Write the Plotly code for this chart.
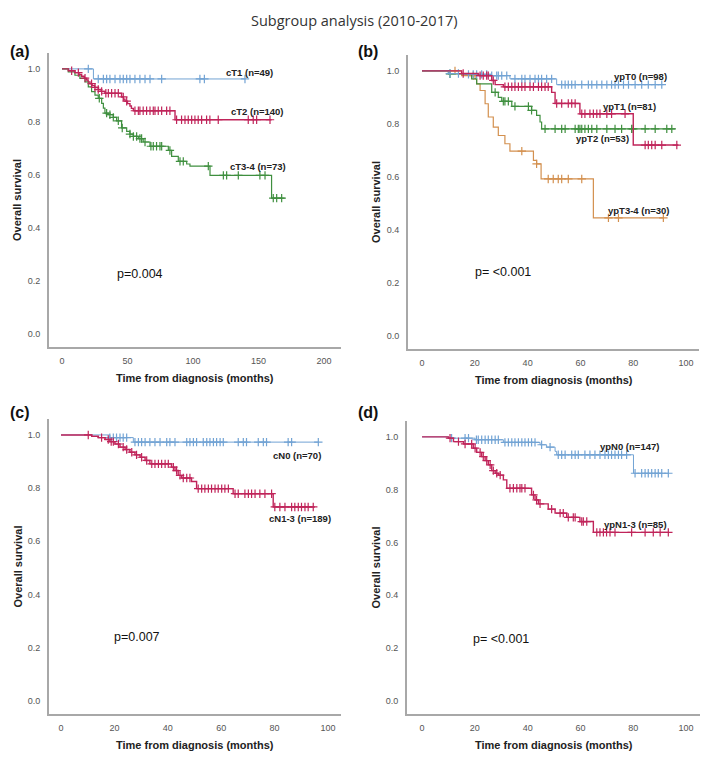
import plotly.graph_objects as go

# The page body has an 8px default margin, so the figure is drawn 8px smaller
# and all reference pixel positions are shifted by OFF.
OFF = 8
W, H = 708 - OFF, 757 - OFF

# ---------------- data ----------------
# Panel (a): clinical T stage
a_cT1_t = [24]
a_cT1_s = [0.962]
a_cT1_end = 140
a_cT1_cens = [20.1, 27.7, 31.6, 34.1, 36.6, 40.5, 44.3, 46.8, 49.4, 51.9, 55.7, 59.5, 63.4, 67.2, 76.1, 105.3, 108.7, 139.7]

a_cT2_t = [5, 9.9, 13, 15, 17, 18.8, 20, 21.4, 23, 25, 27.7, 30, 32.8, 45.5, 47, 48.1, 50, 51.9, 53, 54.5, 86.3]
a_cT2_s = [0.993, 0.986, 0.979, 0.972, 0.965, 0.958, 0.951, 0.944, 0.937, 0.93, 0.922, 0.915, 0.908, 0.894, 0.886, 0.878, 0.869, 0.86, 0.851, 0.842, 0.808]
a_cT2_end = 160
a_cT2_cens = [7.4, 12.5, 17.6, 22.6, 25.2, 27.7, 30.3, 33.5, 35.4, 37.9, 40.5, 43, 46.8, 49.4, 55.7, 58.3, 59.5, 62,
              64.6, 67.2, 69.7, 71, 73.5, 76.1, 79.9, 82.4, 87.5, 91.3, 93.9, 96.4, 99, 101.5, 104, 106.6, 110.4,
              112.9, 119.3, 142.2, 146, 148.6, 158.8]

a_cT34_t = [4.8, 9.9, 13.7, 17.6, 20.1, 22.6, 25.2, 27.7, 30.3, 31.6, 32.8, 35.4, 39.2, 41.7, 45.5, 49.4, 51.9, 54.5,
            58.3, 62, 67.2, 81.2, 83.7, 88.8, 95.2, 97.7, 113, 160]
a_cT34_s = [0.989, 0.976, 0.964, 0.951, 0.932, 0.914, 0.901, 0.889, 0.87, 0.852, 0.833, 0.827, 0.817, 0.804, 0.777,
            0.764, 0.754, 0.745, 0.737, 0.724, 0.708, 0.692, 0.67, 0.651, 0.641, 0.633, 0.598, 0.512]
a_cT34_end = 170
a_cT34_cens = [28.5, 34.1, 36.6, 39.2, 43, 46, 51.9, 54.5, 57, 59.5, 60.8, 63.4, 67.9, 69.7, 72.2, 74.8, 76.1, 82.4,
               90.1, 92.6, 111.7, 123.2, 125.7, 134.6, 151.1, 155, 161.3, 163.9, 167.7]

# Panel (b): pathological T stage
b_T0_t = [10, 17.6, 26.4, 33.3, 51]
b_T0_s = [0.99, 0.987, 0.982, 0.97, 0.948]
b_T0_end = 91.4
b_T0_cens = [10.6, 13.8, 17.6, 19.4, 20.7, 22.6, 24.5, 26.4, 28.3, 28.9, 30.2, 32.1, 35.2, 37.8, 39, 40.9, 42.8, 44.1,
             45.3, 47.2, 49.1, 52.9, 54.2, 55.4, 56.7, 58, 60.5, 63, 64.3, 66.2, 68.1, 70, 71.8, 73.1, 74.4, 76.3,
             78.2, 80.7, 83.2, 85.7, 88.3, 90.8]

b_T1_t = [15, 21.3, 26.4, 27.7, 30.8, 49.1, 50.4, 59.8, 80]
b_T1_s = [0.99, 0.982, 0.964, 0.948, 0.94, 0.919, 0.877, 0.838, 0.72]
b_T1_end = 97.1
b_T1_cens = [15.6, 22, 23.2, 24.5, 25.1, 27, 31.4, 32.7, 34, 35.2, 36.5, 37.8, 39, 40.9, 42.2, 44.1, 45.3, 46.6, 47.8,
             51, 52.9, 55.4, 56.7, 58, 60.5, 61.7, 63.6, 64.9, 66.2, 67.4, 70, 71.8, 76.9, 84.5, 85.7, 87, 88.3,
             90.8, 96.5]

b_T2_t = [10, 18.8, 20.7, 26.4, 28.9, 30.2, 34, 41.5, 43.4, 44.7, 45.3]
b_T2_s = [0.989, 0.97, 0.951, 0.919, 0.9, 0.885, 0.866, 0.851, 0.832, 0.807, 0.781]
b_T2_end = 95.8
b_T2_cens = [10.6, 27.7, 30.8, 31.4, 32.7, 35.2, 40.3, 41.5, 46.6, 50.4, 52.9, 54.2, 58, 59.2, 59.8, 60.5, 61.7, 63,
             64.3, 66.2, 70, 73.1, 75.6, 79.4, 80, 84.5, 88.3, 92.7, 94.6]

b_T34_t = [15, 20.1, 20.7, 22, 23.9, 25.1, 27, 28.9, 31.4, 33.3, 42.2, 43.4, 45.1, 64.9]
b_T34_s = [0.982, 0.97, 0.951, 0.926, 0.876, 0.826, 0.788, 0.756, 0.725, 0.697, 0.662, 0.649, 0.592, 0.445]
b_T34_end = 91.4
b_T34_cens = [12.5, 19.4, 37.8, 43.4, 47.8, 49.7, 51.6, 52.9, 55.4, 60.5, 70.6, 74.4, 91.4]

# Panel (c): clinical N stage
c_N0_t = [18.3, 27.1]
c_N0_s = [0.99, 0.973]
c_N0_end = 96.4
c_N0_cens = [18.3, 19.6, 20.8, 22.1, 23.3, 24.6, 27.7, 29, 30.2, 31.5, 33.3, 35.2, 37.1, 39.6, 40.8, 42.7, 47.1, 48.3,
             49.6, 50.8, 53.3, 54.6, 55.8, 57.1, 58.3, 59.6, 60.8, 66.4, 68.3, 69.5, 73.9, 75.8, 77, 85.1, 86.4, 96.4]

c_N13_t = [11.5, 14, 16.5, 18.3, 20.2, 22.1, 24, 25.8, 27.7, 29.6, 31.5, 33.3, 41.4, 42.7, 43.9, 45.2, 48.9, 50.8,
           64.5, 79.5]
c_N13_s = [0.995, 0.99, 0.983, 0.975, 0.966, 0.954, 0.945, 0.935, 0.925, 0.916, 0.904, 0.891, 0.879, 0.866, 0.848,
           0.838, 0.825, 0.798, 0.779, 0.729]
c_N13_end = 95.1
c_N13_cens = [10.2, 15.2, 17.7, 18.8, 19.6, 21.5, 23.3, 24.6, 26.5, 28.3, 30.2, 32.1, 34, 35.2, 36.5, 37.7, 39, 40.2,
              42.1, 43.3, 44.6, 45.8, 47.1, 48.3, 51.4, 52.7, 53.9, 55.2, 56.4, 57.7, 58.9, 60.2, 61.4, 62.7, 65.2,
              66.4, 68.9, 70.2, 71.4, 72.7, 74.5, 76.4, 78.9, 80.1, 82, 83.9, 86.4, 87.6, 88.9, 90.1, 91.4, 92.6, 94.5]

# Panel (d): pathological N stage
d_N0_t = [10, 20.1, 30.8, 44.7, 47.2, 50.4, 51, 80.1]
d_N0_s = [0.995, 0.989, 0.979, 0.97, 0.961, 0.945, 0.932, 0.862]
d_N0_end = 93.3
d_N0_cens = [11.2, 16.3, 17.6, 20.6, 21.3, 22.6, 23.9, 25.1, 26.4, 27.7, 28.9, 31.4, 32.7, 34, 35.2, 36.5, 37.8, 39,
             40.3, 41.5, 42.8, 45.3, 48.5, 51.6, 52.9, 54.2, 56.7, 58, 59.2, 61.7, 63.6, 65.5, 67.4, 69.3, 70.6,
             71.8, 73.1, 74.4, 75.6, 77.5, 80.7, 83.2, 84.5, 85.7, 87, 88.3, 89.5, 90.8, 93.3]

d_N13_t = [10, 11.9, 15.7, 19.4, 20.7, 22.6, 23.9, 25.1, 26.4, 27.7, 28.9, 30.8, 32.1, 41.5, 42.8, 44.1, 47.8, 50.4,
           54.8, 59.8, 64.9]
d_N13_s = [0.995, 0.982, 0.973, 0.957, 0.941, 0.925, 0.91, 0.894, 0.872, 0.862, 0.855, 0.837, 0.805, 0.78, 0.761,
           0.746, 0.726, 0.711, 0.695, 0.679, 0.638]
d_N13_end = 93.3
d_N13_cens = [10.6, 13.8, 16.3, 18.8, 20.1, 22, 23.2, 24.5, 25.8, 27, 28.3, 29.6, 33.3, 34.6, 35.9, 37.1, 37.8, 39,
              42.2, 43.4, 44.7, 49.1, 52.3, 53.5, 55.4, 57.3, 58, 60.5, 61.1, 62.4, 66.2, 67.4, 68.7, 69.9, 71.2,
              73.1, 79.4, 84.5, 87.6, 90.2, 93.3]

BLUE = "#72a3d4"
RED = "#c0245a"
GREEN = "#3f8f3f"
ORANGE = "#d3904f"

# ---------------- figure ----------------
fig = go.Figure()


def surv_at(times, survs, t):
    s = 1.0
    for ti, si in zip(times, survs):
        if ti <= t:
            s = si
    return s


def add_km(axn, times, survs, end, cens, color, width):
    xs = [0] + list(times) + [end]
    ys = [1.0] + list(survs) + [survs[-1]]
    xa = "x" if axn == 1 else f"x{axn}"
    ya = "y" if axn == 1 else f"y{axn}"
    fig.add_trace(go.Scatter(x=xs, y=ys, mode="lines", line=dict(color=color, width=width, shape="hv"),
                             xaxis=xa, yaxis=ya, showlegend=False, hoverinfo="skip"))
    cy = [surv_at(times, survs, c) for c in cens]
    fig.add_trace(go.Scatter(x=cens, y=cy, mode="markers",
                             marker=dict(symbol="cross-thin", size=6, color=color, line=dict(width=1.2, color=color)),
                             xaxis=xa, yaxis=ya, showlegend=False, hoverinfo="skip"))


add_km(1, a_cT1_t, a_cT1_s, a_cT1_end, a_cT1_cens, BLUE, 1)
add_km(1, a_cT34_t, a_cT34_s, a_cT34_end, a_cT34_cens, GREEN, 1.2)
add_km(1, a_cT2_t, a_cT2_s, a_cT2_end, a_cT2_cens, RED, 1.4)

add_km(2, b_T34_t, b_T34_s, b_T34_end, b_T34_cens, ORANGE, 1.2)
add_km(2, b_T2_t, b_T2_s, b_T2_end, b_T2_cens, GREEN, 1.2)
add_km(2, b_T0_t, b_T0_s, b_T0_end, b_T0_cens, BLUE, 1)
add_km(2, b_T1_t, b_T1_s, b_T1_end, b_T1_cens, RED, 1.4)

add_km(3, c_N0_t, c_N0_s, c_N0_end, c_N0_cens, BLUE, 1)
add_km(3, c_N13_t, c_N13_s, c_N13_end, c_N13_cens, RED, 1.4)

add_km(4, d_N0_t, d_N0_s, d_N0_end, d_N0_cens, BLUE, 1)
add_km(4, d_N13_t, d_N13_s, d_N13_end, d_N13_cens, RED, 1.4)


# reference pixel -> paper coordinates
def px2x(p):
    return (p - OFF) / W


def py2y(p):
    return 1 - (p - OFF) / H


panels = {
    1: dict(xd=[49, 341], yd=[53, 347], xr=[-9.9, 213], xt=[0, 50, 100, 150, 200]),
    2: dict(xd=[408, 699], yd=[55, 349], xr=[-5.3, 104.9], xt=[0, 20, 40, 60, 80, 100]),
    3: dict(xd=[49, 341], yd=[419, 714], xr=[-4.5, 104.9], xt=[0, 20, 40, 60, 80, 100]),
    4: dict(xd=[407, 700], yd=[421, 714], xr=[-5.7, 105.3], xt=[0, 20, 40, 60, 80, 100]),
}
yticks = [0.0, 0.2, 0.4, 0.6, 0.8, 1.0]
tickfont = dict(family="Liberation Sans, Arial, sans-serif", size=9, color="#555555")
axcol = "#a8a8a8"

layout_axes = {}
for n, p in panels.items():
    sfx = "" if n == 1 else str(n)
    layout_axes["xaxis" + sfx] = dict(
        domain=[px2x(p["xd"][0]), px2x(p["xd"][1])], range=p["xr"], anchor="y" + sfx,
        tickvals=p["xt"], ticktext=[str(v) for v in p["xt"]], showline=True, linecolor=axcol, linewidth=2,
        showgrid=False, zeroline=False, ticks="", tickfont=tickfont, ticklabelstandoff=4, fixedrange=True)
    layout_axes["yaxis" + sfx] = dict(
        domain=[py2y(p["yd"][1]), py2y(p["yd"][0])], range=[-0.05, 1.06], anchor="x" + sfx,
        tickvals=yticks, ticktext=[f"{v:.1f}" for v in yticks], showline=True, linecolor=axcol, linewidth=2,
        showgrid=False, zeroline=False, ticks="", tickfont=tickfont, ticklabelstandoff=5, fixedrange=True)

fig.update_layout(width=W, height=H, margin=dict(l=0, r=0, t=0, b=0), plot_bgcolor="white",
                  paper_bgcolor="white", **layout_axes)

ann = []
BOLD = "Liberation Sans, Arial, sans-serif"

# main title (kept inside the drawable area that starts at OFF)
ann.append(dict(text="Subgroup analysis (2010-2017)", x=px2x(354), y=py2y(OFF + 1), xref="paper", yref="paper",
                showarrow=False, font=dict(family="Open Sans, sans-serif", size=14.5, color="#333333"),
                xanchor="center", yanchor="top"))

# panel letters
for lab, (px, py) in {"(a)": (OFF, 51), "(b)": (356, 51), "(c)": (OFF, 412), "(d)": (356, 412)}.items():
    ann.append(dict(text=f"<b>{lab}</b>", x=px2x(px), y=py2y(py), xref="paper", yref="paper", showarrow=False,
                    font=dict(family=BOLD, size=16, color="#111111"), xanchor="left", yanchor="middle"))

# axis titles
for n, p in panels.items():
    cx = (p["xd"][0] + p["xd"][1]) / 2
    ty = p["yd"][1] + 31
    ann.append(dict(text="<b>Time from diagnosis (months)</b>", x=px2x(cx), y=py2y(ty), xref="paper", yref="paper",
                    showarrow=False, font=dict(family=BOLD, size=11, color="#222222"),
                    xanchor="center", yanchor="middle"))
    cy = (p["yd"][0] + p["yd"][1]) / 2
    ann.append(dict(text="<b>Overall survival</b>", x=px2x(p["xd"][0] - 32), y=py2y(cy), xref="paper",
                    yref="paper", showarrow=False, textangle=-90, font=dict(family=BOLD, size=11, color="#222222"),
                    xanchor="center", yanchor="middle"))

# curve labels
curve_labels = [
    (1, "cT1 (n=49)", 143.5, 0.988),
    (1, "cT2 (n=140)", 149, 0.84),
    (1, "cT3-4 (n=73)", 150, 0.633),
    (2, "ypT0 (n=98)", 82.6, 0.979),
    (2, "ypT1 (n=81)", 78.4, 0.865),
    (2, "ypT2 (n=53)", 68.2, 0.743),
    (2, "ypT3-4 (n=30)", 82.2, 0.473),
    (3, "cN0 (n=70)", 88.6, 0.924),
    (3, "cN1-3 (n=189)", 89.5, 0.687),
    (4, "ypN0 (n=147)", 78.6, 0.963),
    (4, "ypN1-3 (n=85)", 81, 0.667),
]
for n, t, x, y in curve_labels:
    sfx = "" if n == 1 else str(n)
    ann.append(dict(text=f"<b>{t}</b>", x=x, y=y, xref="x" + sfx, yref="y" + sfx, showarrow=False,
                    font=dict(family=BOLD, size=9.5, color="#222222"), xanchor="center", yanchor="middle"))

# p-values
pvals = [(1, "p=0.004", 59.5, 0.226), (2, "p= <0.001", 30.7, 0.239), (3, "p=0.007", 28.3, 0.239),
         (4, "p= <0.001", 29.9, 0.235)]
for n, t, x, y in pvals:
    sfx = "" if n == 1 else str(n)
    ann.append(dict(text=t, x=x, y=y, xref="x" + sfx, yref="y" + sfx, showarrow=False,
                    font=dict(family=BOLD, size=12.5, color="#111111"), xanchor="center", yanchor="middle"))

fig.update_layout(annotations=ann)
fig.write_html("out.html")
